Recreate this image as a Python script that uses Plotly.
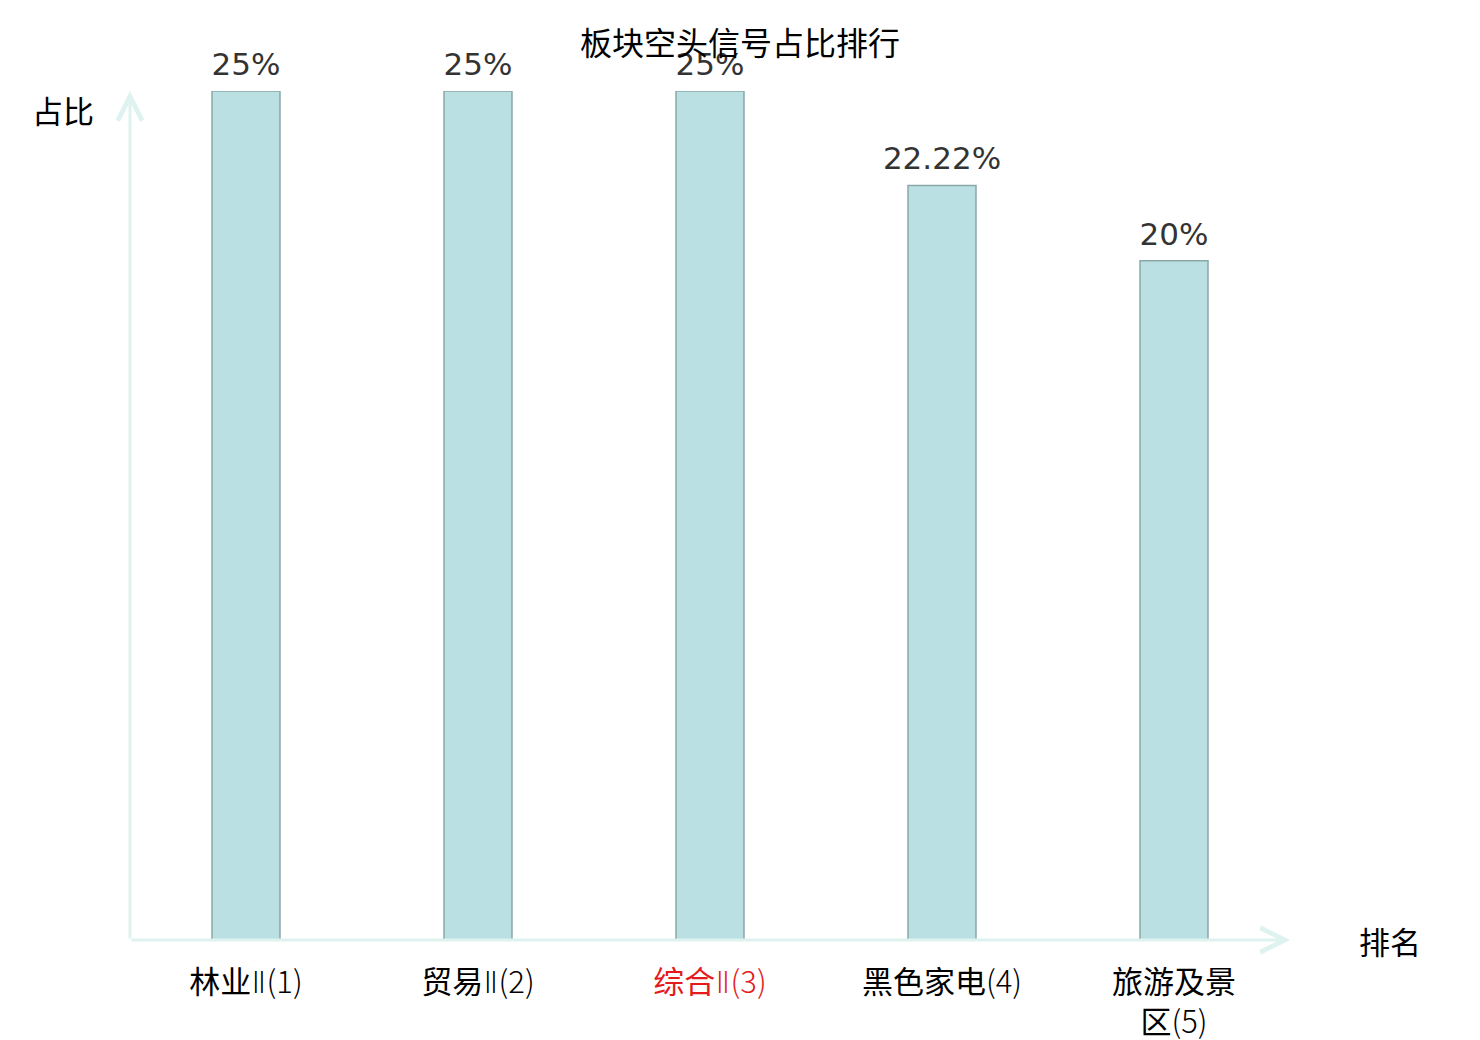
import plotly.graph_objects as go

categories = ['林业Ⅱ(1)', '贸易Ⅱ(2)', '综合Ⅱ(3)', '黑色家电(4)', '旅游及景区(5)']
thin = 'font-weight:300'
roman = 'font-family:DejaVu Sans;font-weight:200'
tick_labels = [
    f'林业<span style="{roman}">Ⅱ</span><span style="{thin}">(1)</span>',
    f'贸易<span style="{roman}">Ⅱ</span><span style="{thin}">(2)</span>',
    f'<span style="color:#e41a1c">综合</span><span style="color:#e41a1c;{roman}">Ⅱ</span>'
    f'<span style="color:#e41a1c;{thin}">(3)</span>',
    f'黑色家电<span style="{thin}">(4)</span>',
    f'旅游及景<br>区<span style="{thin}">(5)</span>',
]
values = [25, 25, 25, 22.22, 20]
value_labels = [f'{v:g}%' for v in values]

axis_color = 'rgb(222, 242, 239)'
font_family = 'DejaVu Sans, Noto Sans CJK SC'
cjk_family = 'Noto Sans CJK SC, DejaVu Sans'

fig = go.Figure()
fig.add_trace(go.Bar(
    x=categories,
    y=values,
    marker=dict(color='#bbe0e3', line=dict(color='#8aa7a8', width=1.5)),
    hoverinfo='x+y',
))
# value labels placed above bars (transparent markers give the offset)
fig.add_trace(go.Scatter(
    x=categories,
    y=values,
    text=value_labels,
    mode='markers+text',
    textposition='top center',
    marker=dict(size=12, color='rgba(0,0,0,0)'),
    textfont=dict(size=31, color='#333333', family=font_family),
    cliponaxis=False,
    hoverinfo='skip',
))

fig.update_layout(
    width=1480, height=1040,
    template='plotly_white',
    plot_bgcolor='white', paper_bgcolor='white',
    margin=dict(l=122, r=198, t=83, b=108, autoexpand=False),
    bargap=0.707,
    showlegend=False,
    font=dict(family=cjk_family, size=31, color='black'),
    title=dict(text='板块空头信号占比排行', x=0.4946, xanchor='center', y=0.966, yanchor='middle',
               font=dict(size=32, color='black', family=cjk_family)),
)
fig.update_xaxes(showgrid=False, zeroline=False, showline=False, ticks='', automargin=False,
                 tickmode='array', tickvals=categories, ticktext=tick_labels,
                 tickfont=dict(size=31, color='black', family=cjk_family),
                 ticklabelstandoff=21)
fig.update_yaxes(range=[0, 25], showgrid=False, zeroline=False, showline=False,
                 showticklabels=False, automargin=False)

# axis lines with arrowheads
fig.add_annotation(xref='x domain', yref='y domain', axref='x domain', ayref='y domain',
                   x=1.0, y=0, ax=0, ay=0, text='', showarrow=True,
                   arrowhead=5, arrowwidth=3, arrowsize=1.6, arrowcolor=axis_color)
fig.add_annotation(xref='x domain', yref='y domain', axref='x domain', ayref='y domain',
                   x=0, y=1.0, ax=0, ay=0, text='', showarrow=True,
                   arrowhead=5, arrowwidth=3, arrowsize=1.6, arrowcolor=axis_color)

# axis titles
fig.add_annotation(xref='paper', yref='paper', x=-0.058, y=0.978, text='占比',
                   showarrow=False, xanchor='center', yanchor='middle',
                   font=dict(size=31, color='black', family=cjk_family))
fig.add_annotation(xref='paper', yref='paper', x=1.086, y=0.0, text='排名',
                   showarrow=False, xanchor='center', yanchor='middle',
                   font=dict(size=31, color='black', family=cjk_family))

fig.write_html("out.html")
